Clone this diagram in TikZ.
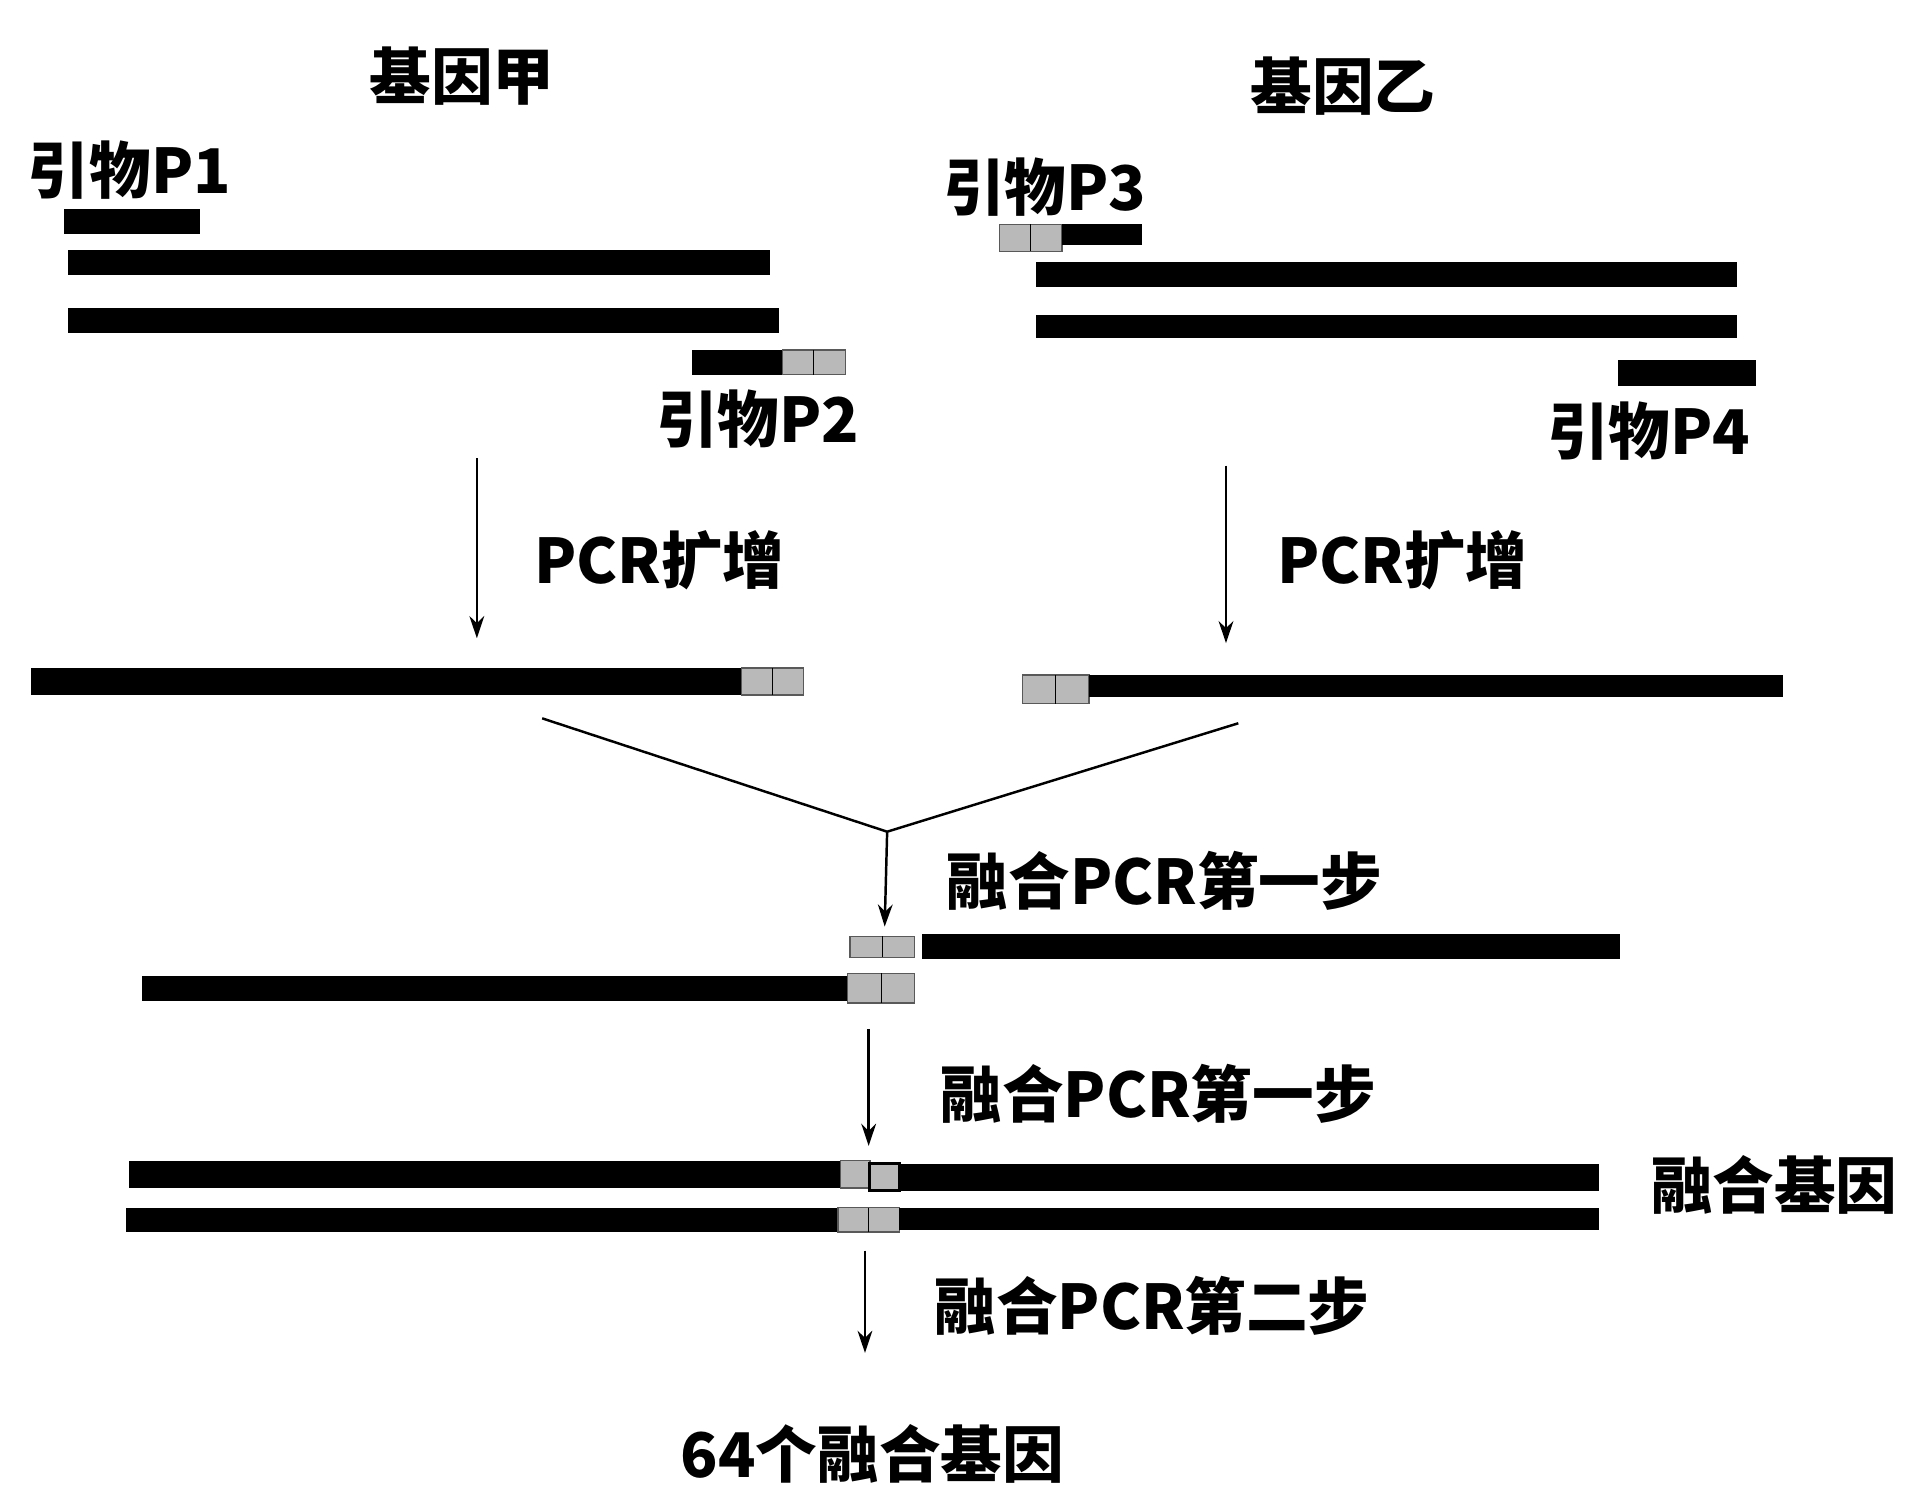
\documentclass[tikz,border=0pt]{standalone}
\usepackage{fontspec}
\setmainfont{Liberation Serif}
\newfontfamily\cjk{Noto Sans CJK SC Bold}
\usetikzlibrary{arrows.meta}
\begin{document}
\begin{tikzpicture}[x=0.5pt,y=-0.5pt,
 bar/.style={fill=black},
 seg/.style={fill=gray!55,draw=gray!70!black,line width=0.6pt},
 lab/.style={font=\fontsize{25}{28}\selectfont\bfseries\cjk},
 arr/.style={-{Stealth[length=9pt,width=6pt]},line width=1pt}]
\useasboundingbox (0,0) rectangle (1568,1218);
\node[lab] (ga) at (375,62) {基因甲};
\node[lab] (gb) at (1090,70) {基因乙};
\node[lab] (p1) at (105,138) {引物P1};
\node[lab] (p2) at (615,340) {引物P2};
\node[lab] (p3) at (848,152) {引物P3};
\node[lab] (p4) at (1338,350) {引物P4};
% gene A
\fill[bar] (52,170) rectangle (162,190);
\fill[bar] (55,203) rectangle (625,223);
\fill[bar] (55,250) rectangle (632,270);
\fill[bar] (562,284) rectangle (635,304);
\draw[seg] (635,284) rectangle (686,304); \draw (660,284)--(660,304);
% gene B
\draw[seg] (811,182) rectangle (862,204); \draw (836,182)--(836,204);
\fill[bar] (862,182) rectangle (927,199);
\fill[bar] (841,213) rectangle (1410,233);
\fill[bar] (841,256) rectangle (1410,274);
\fill[bar] (1313,292) rectangle (1425,313);
% PCR
\coordinate (a1) at (387,372); \coordinate (a2) at (387,518);
\coordinate (b1) at (995,378); \coordinate (b2) at (995,522);
\draw[arr] (a1)--(a2); \draw[arr] (b1)--(b2);
\node[lab] (l1) at (535,455) {PCR扩增};
\node[lab] (l2) at (1138,455) {PCR扩增};
\fill[bar] (25,542) rectangle (602,564);
\draw[seg] (602,542) rectangle (652,564); \draw (627,542)--(627,564);
\draw[seg] (830,548) rectangle (884,571); \draw (857,548)--(857,571);
\fill[bar] (884,548) rectangle (1447,566);
% merge
\coordinate (m1) at (440,583); \coordinate (m2) at (1005,587); \coordinate (mc) at (720,675); \coordinate (md) at (718,752);
\draw[line width=1pt] (m1)--(mc)--(m2);
\draw[arr] (mc)--(md);
\node[lab] (s1) at (945,715) {融合PCR第一步};
\draw[seg] (690,760) rectangle (742,777); \draw (716,760)--(716,777);
\fill[bar] (748,758) rectangle (1315,778);
\fill[bar] (115,792) rectangle (688,812);
\draw[seg] (688,790) rectangle (742,814); \draw (715,790)--(715,814);
\coordinate (c1) at (705,835); \coordinate (c2) at (705,930);
\draw[arr] (c1)--(c2);
\node[lab] (s2) at (940,888) {融合PCR第一步};
\fill[bar] (105,942) rectangle (682,964);
\draw[seg] (682,942) rectangle (706,964);
\draw[seg,line width=1.2pt,draw=black] (706,944) rectangle (730,966);
\fill[bar] (730,945) rectangle (1298,967);
\fill[bar] (102,980) rectangle (680,1000);
\draw[seg] (680,980) rectangle (730,1000); \draw (705,980)--(705,1000);
\fill[bar] (730,980) rectangle (1298,998);
\node[lab] (fg) at (1440,962) {融合基因};
\coordinate (d1) at (702,1015); \coordinate (d2) at (702,1098);
\draw[arr] (d1)--(d2);
\node[lab] (s3) at (935,1060) {融合PCR第二步};
\node[lab] (res) at (708,1180) {64个融合基因};
\end{tikzpicture}
\end{document}
